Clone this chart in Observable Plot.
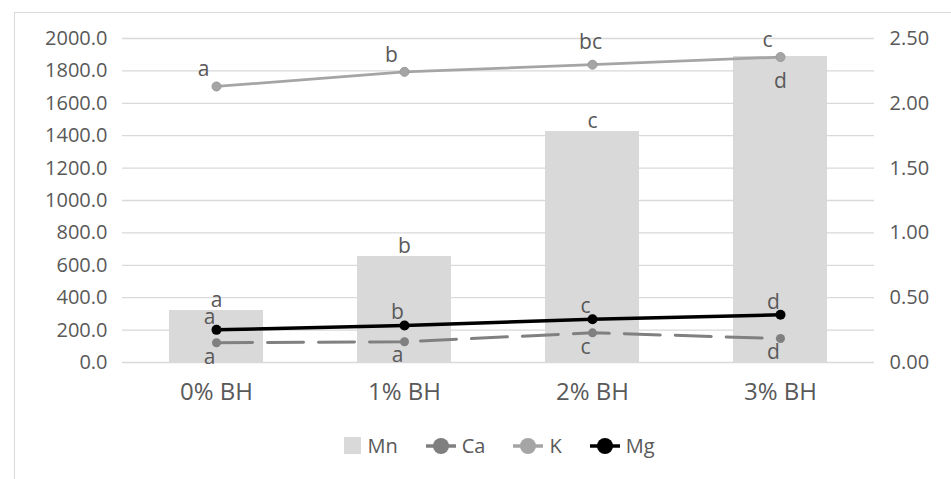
<!DOCTYPE html>
<html>
<head>
<meta charset="utf-8">
<script src="https://cdn.jsdelivr.net/npm/d3@7"></script>
<script src="https://cdn.jsdelivr.net/npm/@observablehq/plot@0.6"></script>
<style>
  html, body { margin: 0; padding: 0; background: #fff; }
  #wrap { position: relative; width: 951px; height: 479px; overflow: hidden; font-family: "Open Sans", sans-serif; }
  #frame { position: absolute; left: 14px; top: 12px; width: 960px; height: 500px; border-left: 1px solid #d9d9d9; border-top: 1px solid #d9d9d9; box-sizing: border-box; }
  #chart { position: absolute; left: 0; top: 0; }
  #legend { position: absolute; top: 432px; left: 24px; width: 951px; display: flex; justify-content: center; align-items: center; gap: 28px; color: #595959; font-size: 20px; }
  .item { display: flex; align-items: center; gap: 6px; }
  .item svg { display: block; }
</style>
</head>
<body>
<div id="wrap">
  <div id="frame"></div>
  <div id="chart"></div>
  <div id="legend"></div>
</div>
<script>
const categories = ["0% BH", "1% BH", "2% BH", "3% BH"];
const mn = [321, 654, 1426, 1889];
const ca = [0.152, 0.160, 0.229, 0.185];
const k  = [2.130, 2.243, 2.298, 2.357];
const mg = [0.252, 0.285, 0.334, 0.368];
const mnLetters = ["a", "b", "c", "d"];
const caLetters = ["a", "a", "c", "d"];
const kLetters  = ["a", "b", "bc", "c"];
const mgLetters = ["a", "b", "c", "d"];
const leftTicks  = [0, 200, 400, 600, 800, 1000, 1200, 1400, 1600, 1800, 2000];
const rightTicks = [0, 0.5, 1.0, 1.5, 2.0, 2.5];

const ratio = 2000 / 2.5; // right axis -> left axis units

const rows = categories.map((c, i) => ({
  cat: c, i,
  mn: mn[i], ca: ca[i] * ratio, k: k[i] * ratio, mg: mg[i] * ratio,
  mnL: mnLetters[i], caL: caLetters[i], kL: kLetters[i], mgL: mgLetters[i]
}));

const txt = "#595959";
const chart = Plot.plot({
  width: 951,
  height: 420,
  marginLeft: 122,
  marginRight: 77,
  marginTop: 38,
  marginBottom: 58,
  style: { fontFamily: "Open Sans, sans-serif", color: txt, background: "transparent", overflow: "visible" },
  x: { domain: categories, paddingInner: 0.5, paddingOuter: 0.25, label: null },
  y: { domain: [0, 2000], label: null },
  marks: [
    Plot.gridY(leftTicks, { stroke: "#d9d9d9", strokeOpacity: 1, strokeWidth: 1.3 }),
    Plot.barY(rows, { x: "cat", y: "mn", fill: "#d9d9d9" }),
    Plot.line(rows, { x: "cat", y: "ca", stroke: "#808080", strokeWidth: 3, strokeDasharray: "36 15" }),
    Plot.line(rows, { x: "cat", y: "k", stroke: "#a5a5a5", strokeWidth: 2.7 }),
    Plot.line(rows, { x: "cat", y: "mg", stroke: "#000", strokeWidth: 3.5 }),
    Plot.dot(rows, { x: "cat", y: "ca", r: 4.5, fill: "#808080" }),
    Plot.dot(rows, { x: "cat", y: "k", r: 4.5, fill: "#a5a5a5", stroke: "#999", strokeWidth: 1 }),
    Plot.dot(rows, { x: "cat", y: "mg", r: 5, fill: "#000" }),
    Plot.text(rows.filter(d => d.i < 3), { x: "cat", y: "mn", text: "mnL", dy: -10, fontSize: 21, fill: txt }),
    Plot.text(rows.filter(d => d.i === 3), { x: "cat", y: "mn", text: "mnL", dy: 25, fontSize: 21, fill: txt }),
    Plot.text(rows.filter(d => d.i !== 2), { x: "cat", y: "k", text: "kL", dx: -13, dy: -17, fontSize: 21, fill: txt }),
    Plot.text(rows.filter(d => d.i === 2), { x: "cat", y: "k", text: "kL", dx: -2, dy: -22, fontSize: 21, fill: txt }),
    Plot.text(rows, { x: "cat", y: "mg", text: "mgL", dx: -7, dy: -13, fontSize: 21, fill: txt }),
    Plot.text(rows, { x: "cat", y: "ca", text: "caL", dx: -7, dy: 14, fontSize: 21, fill: txt }),
    Plot.axisY({ ticks: leftTicks, tickSize: 0, tickPadding: 15, tickFormat: d => d.toFixed(1), fontSize: 20, label: null, fill: txt }),
    Plot.axisY({ anchor: "right", ticks: rightTicks.map(v => v * ratio), tickSize: 0, tickPadding: 15, tickFormat: d => (d / ratio).toFixed(2), fontSize: 20, label: null, fill: txt }),
    Plot.axisX({ tickSize: 0, tickPadding: 20, fontSize: 24, label: null, fill: txt })
  ]
});
document.getElementById("chart").appendChild(chart);

// Legend
const legendItems = [
  { name: "Mn", type: "bar", color: "#d9d9d9" },
  { name: "Ca", type: "line", color: "#7f7f7f" },
  { name: "K",  type: "line", color: "#a5a5a5" },
  { name: "Mg", type: "line", color: "#000000" }
];
const legend = document.getElementById("legend");
for (const it of legendItems) {
  const item = document.createElement("div");
  item.className = "item";
  const ns = "http://www.w3.org/2000/svg";
  const svg = document.createElementNS(ns, "svg");
  if (it.type === "bar") {
    svg.setAttribute("width", 17); svg.setAttribute("height", 17);
    const r = document.createElementNS(ns, "rect");
    r.setAttribute("width", 17); r.setAttribute("height", 17); r.setAttribute("fill", it.color);
    svg.appendChild(r);
  } else {
    svg.setAttribute("width", 30); svg.setAttribute("height", 18);
    const l = document.createElementNS(ns, "line");
    l.setAttribute("x1", 0); l.setAttribute("x2", 30); l.setAttribute("y1", 9); l.setAttribute("y2", 9);
    l.setAttribute("stroke", it.color); l.setAttribute("stroke-width", 3.5);
    const c = document.createElementNS(ns, "circle");
    c.setAttribute("cx", 15); c.setAttribute("cy", 9); c.setAttribute("r", 8); c.setAttribute("fill", it.color);
    svg.appendChild(l); svg.appendChild(c);
  }
  const label = document.createElement("span");
  label.textContent = it.name;
  item.appendChild(svg); item.appendChild(label);
  legend.appendChild(item);
}
</script>
</body>
</html>
